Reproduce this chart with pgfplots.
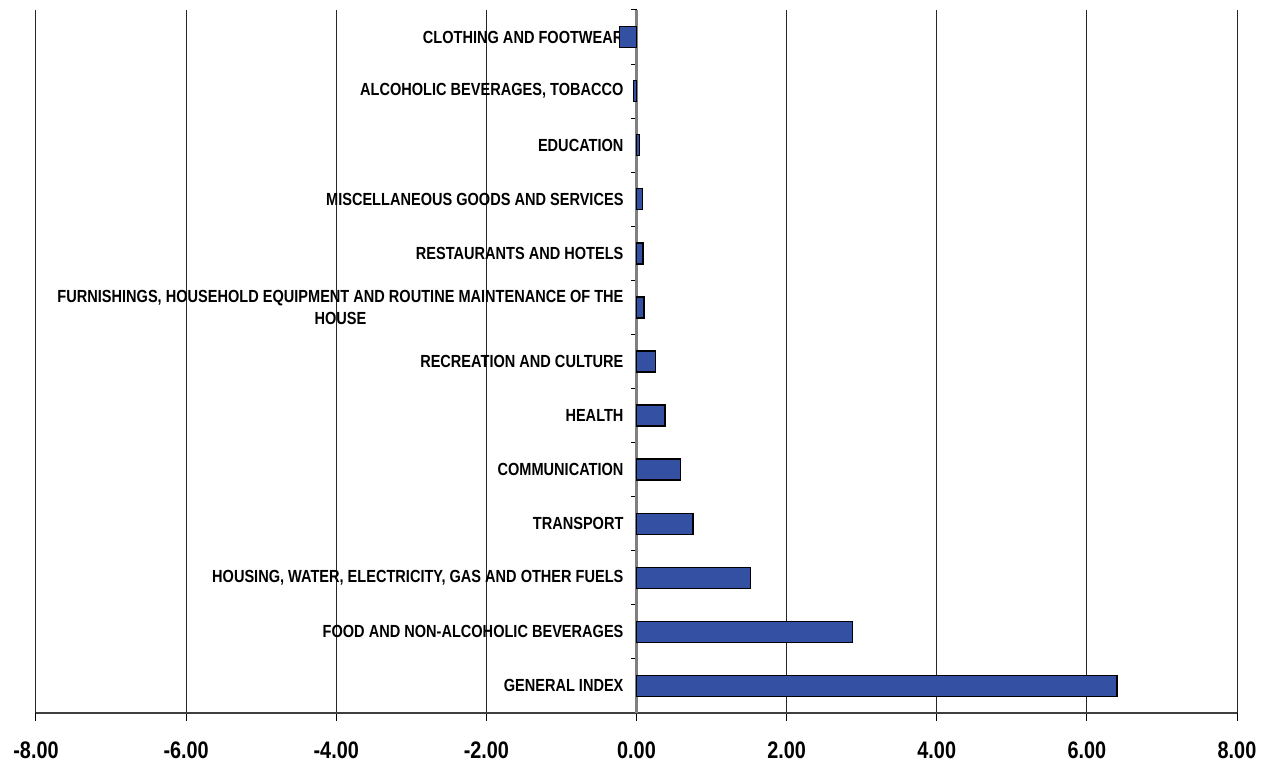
\documentclass[border=0pt]{standalone}
\usepackage{fontspec}
\usepackage{pgfplots}
\pgfplotsset{compat=1.18}
\newfontfamily\narrowfont{Liberation Sans}[FakeStretch=0.83]
\definecolor{barblue}{RGB}{52,80,162}

\begin{document}
\begin{tikzpicture}
\begin{axis}[
    scale only axis,
    width=600.5bp, height=351.5bp,
    xbar, bar width=10.5bp,
    xmin=-8, xmax=8,
    ymin=-0.5, ymax=12.5,
    axis x line=bottom,
    axis y line=middle,
    axis line style={-},
    x axis line style={black!75, line width=0.6bp},
    y axis line style={gray, line width=1.1bp},
    hide obscured x ticks=false,
    hide obscured y ticks=false,
    xtick={-8,-6,-4,-2,0,2,4,6,8},
    xticklabels={-8.00,-6.00,-4.00,-2.00,0.00,2.00,4.00,6.00,8.00},
    xmajorgrids,
    grid style={black!85, line width=0.5bp},
    tick align=outside,
    major tick length=4bp,
    minor tick length=2.8bp,
    tick style={black, line width=0.5bp},
    major y tick style={draw=none},
    ytick={0,...,12},
    minor ytick={-0.5,0.5,...,12.5},
    yticklabels={
        GENERAL INDEX,
        FOOD AND NON-ALCOHOLIC BEVERAGES,
        {HOUSING, WATER, ELECTRICITY, GAS AND OTHER FUELS},
        TRANSPORT,
        COMMUNICATION,
        HEALTH,
        RECREATION AND CULTURE,
        {FURNISHINGS, HOUSEHOLD EQUIPMENT AND ROUTINE MAINTENANCE OF THE\\HOUSE},
        RESTAURANTS AND HOTELS,
        MISCELLANEOUS GOODS AND SERVICES,
        EDUCATION,
        {ALCOHOLIC BEVERAGES, TOBACCO},
        CLOTHING AND FOOTWEAR},
    yticklabel style={font=\narrowfont\bfseries\fontsize{8.8}{11}\selectfont,
        align=center, anchor=east, xshift=1bp},
    xticklabel style={font=\narrowfont\bfseries\fontsize{12}{14}\selectfont,
        yshift=-7bp},
]
\addplot[fill=barblue, draw=black, line width=0.7bp] coordinates {
    (6.40,0) (2.88,1) (1.52,2) (0.75,3) (0.59,4) (0.38,5) (0.25,6)
    (0.10,7) (0.085,8) (0.08,9) (0.04,10) (-0.04,11) (-0.23,12)
};
\end{axis}
\pgfresetboundingbox
\path (current axis.south west)+(-18bp,-26bp) rectangle ([shift={(15bp,5bp)}]current axis.north east);
\end{tikzpicture}
\end{document}
